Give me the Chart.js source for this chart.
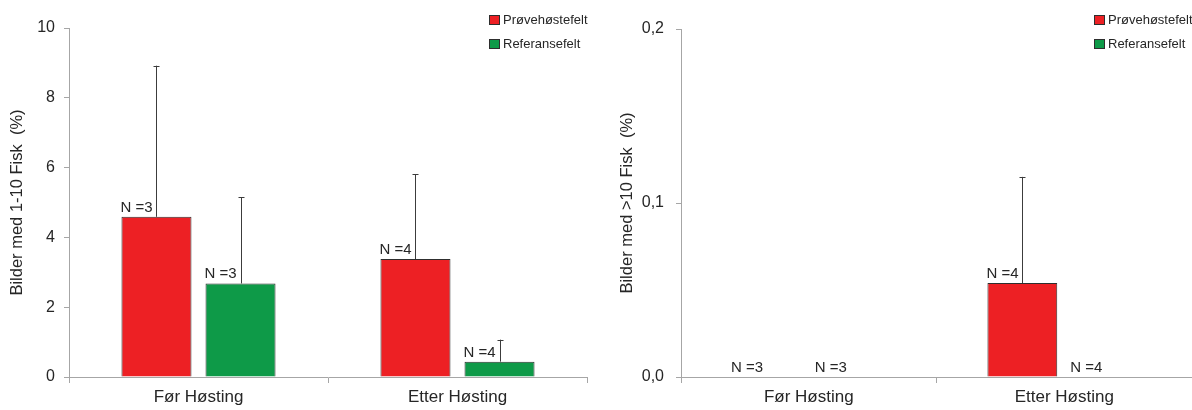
<!DOCTYPE html>
<html>
<head>
<meta charset="utf-8">
<script src="https://cdn.jsdelivr.net/npm/chart.js@4.4.1/dist/chart.umd.min.js"></script>
<style>
  html, body { margin: 0; padding: 0; background: #ffffff; }
  body { width: 1192px; height: 410px; position: relative; overflow: hidden; }
  canvas { position: absolute; top: 0; }
  #left { left: 0; }
  #right { left: 600px; }
</style>
</head>
<body>
<canvas id="left" width="600" height="410"></canvas>
<canvas id="right" width="592" height="410"></canvas>
<script>
// Categories and series
const categories = ['Før Høsting', 'Etter Høsting'];
const seriesNames = ['Prøvehøstefelt', 'Referansefelt'];

// Bites with 1-10 fish (%)
const smallRed = [4.59, 3.38];
const smallRedErr = [4.33, 2.43];
const smallGreen = [2.68, 0.44];
const smallGreenErr = [2.47, 0.63];
const smallRedN = [3, 4];
const smallGreenN = [3, 4];

// Bites with >10 fish (%)
const largeRed = [0, 0.054];
const largeRedErr = [0, 0.061];
const largeGreen = [0, 0];
const largeGreenErr = [0, 0];
const largeRedN = [3, 4];
const largeGreenN = [3, 4];

// Axis tick labels
const leftTicks = ['0', '2', '4', '6', '8', '10'];
const rightTicks = ['0,0', '0,1', '0,2'];

const RED = '#ED2024';
const GREEN = '#0E9A48';
const EDGE = '#2e2e2e';
const AXIS = '#a6a6a6';
const TEXT = '#262626';
const FONT = "'Liberation Sans', Arial, sans-serif";

// Upper error whiskers drawn from each bar top
const errorBars = {
  id: 'errorBars',
  afterDatasetsDraw(chart) {
    const ctx = chart.ctx;
    const yScale = chart.scales.y;
    ctx.save();
    ctx.strokeStyle = '#3c3c3c';
    ctx.lineWidth = 1;
    chart.data.datasets.forEach((ds, di) => {
      const meta = chart.getDatasetMeta(di);
      meta.data.forEach((bar, i) => {
        const err = ds.errors[i];
        if (!err) return;
        const x = Math.round(bar.x) + 0.5;
        const yTop = yScale.getPixelForValue(ds.data[i] + err);
        ctx.beginPath();
        ctx.moveTo(x, bar.y);
        ctx.lineTo(x, yTop);
        ctx.moveTo(x - 3, Math.round(yTop) + 0.5);
        ctx.lineTo(x + 3, Math.round(yTop) + 0.5);
        ctx.stroke();
      });
    });
    ctx.restore();
  }
};

// Sample size labels above each bar, starting at the bar's left edge
const sampleLabels = {
  id: 'sampleLabels',
  afterDatasetsDraw(chart) {
    const ctx = chart.ctx;
    ctx.save();
    ctx.font = '15px ' + FONT;
    ctx.fillStyle = TEXT;
    ctx.textAlign = 'left';
    ctx.textBaseline = 'alphabetic';
    chart.data.datasets.forEach((ds, di) => {
      const meta = chart.getDatasetMeta(di);
      meta.data.forEach((bar, i) => {
        const left = bar.x - bar.width / 2 - 1;
        ctx.fillText('N =' + ds.counts[i], left, bar.y - 5);
      });
    });
    ctx.restore();
  }
};

// Boxed legend in the upper right corner of the plot
const boxLegend = {
  id: 'boxLegend',
  afterDraw(chart) {
    const ctx = chart.ctx;
    const area = chart.chartArea;
    const x0 = area.right - 98;
    ctx.save();
    ctx.font = '13px ' + FONT;
    ctx.textBaseline = 'middle';
    ctx.textAlign = 'left';
    chart.data.datasets.forEach((ds, i) => {
      const cy = 20 + i * 24;
      ctx.fillStyle = ds.backgroundColor;
      ctx.fillRect(x0, cy - 5, 11, 10);
      ctx.strokeStyle = EDGE;
      ctx.lineWidth = 1;
      ctx.strokeRect(x0 + 0.5, cy - 4.5, 10, 9);
      ctx.fillStyle = TEXT;
      ctx.fillText(ds.label, x0 + 14, cy);
    });
    ctx.restore();
  }
};

function makeChart(id, cfg) {
  return new Chart(document.getElementById(id), {
    type: 'bar',
    data: {
      labels: categories,
      datasets: [
        {
          label: seriesNames[0],
          data: cfg.red, errors: cfg.redErr, counts: cfg.redN,
          backgroundColor: RED, borderColor: EDGE, borderWidth: 1,
          categoryPercentage: cfg.catPct, barPercentage: 0.833
        },
        {
          label: seriesNames[1],
          data: cfg.green, errors: cfg.greenErr, counts: cfg.greenN,
          backgroundColor: GREEN, borderColor: EDGE, borderWidth: 1,
          categoryPercentage: cfg.catPct, barPercentage: 0.833
        }
      ]
    },
    options: {
      responsive: false,
      animation: false,
      devicePixelRatio: 1,
      layout: { padding: { top: cfg.padTop, right: cfg.padRight, left: 0, bottom: 0 } },
      plugins: { legend: { display: false }, tooltip: { enabled: false } },
      scales: {
        x: {
          offset: true,
          grid: { offset: true, drawOnChartArea: false, color: AXIS, tickLength: 6, lineWidth: 1 },
          border: { color: AXIS, width: 1 },
          ticks: { color: TEXT, font: { family: FONT, size: 17 }, padding: 4 },
          afterFit(s) { s.height = 33; }
        },
        y: {
          min: 0, max: cfg.max,
          ticks: {
            stepSize: cfg.step,
            color: TEXT,
            font: { family: FONT, size: 16 },
            padding: cfg.tickPad,
            callback: (v, i) => cfg.ticks[i]
          },
          grid: { drawOnChartArea: false, color: AXIS, tickLength: 5 },
          border: { color: AXIS, width: 1 },
          title: {
            display: true, text: cfg.title, color: TEXT,
            font: { family: FONT, size: 16.5 },
            padding: { top: cfg.titlePad, bottom: 0 }
          },
          afterFit(s) { s.width = cfg.yWidth; }
        }
      }
    },
    plugins: [errorBars, sampleLabels, boxLegend]
  });
}

makeChart('left', {
  red: smallRed, redErr: smallRedErr, redN: smallRedN,
  green: smallGreen, greenErr: smallGreenErr, greenN: smallGreenN,
  max: 10, step: 2, ticks: leftTicks,
  title: 'Bilder med 1-10 Fisk  (%)',
  yWidth: 69, padTop: 28, padRight: 13, tickPad: 9, titlePad: 8, catPct: 0.649
});

makeChart('right', {
  red: largeRed, redErr: largeRedErr, redN: largeRedN,
  green: largeGreen, greenErr: largeGreenErr, greenN: largeGreenN,
  max: 0.2, step: 0.1, ticks: rightTicks,
  title: 'Bilder med >10 Fisk  (%)',
  yWidth: 81, padTop: 29, padRight: 0, tickPad: 12, titlePad: 18, catPct: 0.656
});
</script>
</body>
</html>
